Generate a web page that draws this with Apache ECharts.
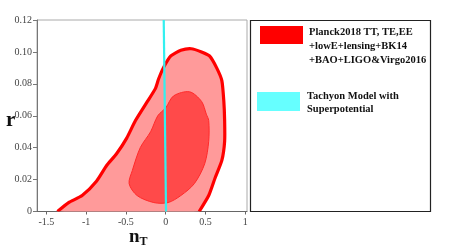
<!DOCTYPE html>
<html><head><meta charset="utf-8">
<script src="https://cdn.jsdelivr.net/npm/echarts@6/dist/echarts.min.js"></script>
<style>html,body{margin:0;padding:0;background:#fff}#c{width:461px;height:250px}</style>
</head><body><div id="c"></div>
<script>
// Outer (95%) contour
var outerN = [-1.36,-1.22,-1.05,-0.87,-0.74,-0.62,-0.49,-0.38,-0.23,-0.13,-0.09,-0.03,0.064,0.19,0.32,0.45,0.55,0.64,0.705,0.73,0.74,0.74,0.705,0.62,0.54,0.42];
var outerR = [0,0.0056,0.01,0.019,0.029,0.036,0.046,0.057,0.069,0.077,0.083,0.09,0.0975,0.101,0.102,0.1,0.0975,0.09,0.082,0.069,0.057,0.044,0.032,0.021,0.01,0];
// Inner (68%) contour
var innerN = [-0.15,-0.36,-0.46,-0.42,-0.32,-0.19,-0.1,0,0.1,0.3,0.45,0.51,0.54,0.54,0.49,0.36,0.19,0.03];
var innerR = [0.0056,0.01,0.0175,0.0256,0.04,0.05,0.06,0.065,0.0725,0.075,0.069,0.061,0.057,0.044,0.03,0.0175,0.01,0.0056];
// Tachyon model line
var tachN = [-0.025, 0.004];
var tachR = [0.12, 0];
var xTicks = [-1.5,-1,-0.5,0,0.5,1];
var xTickLabels = ['-1.5','-1','-0.5','0','0.5','1'];
var yTickLabels = ['0','0.02','0.04','0.06','0.08','0.10','0.12'];
var legendLabels = ['Planck2018 TT, TE,EE','+lowE+lensing+BK14','+BAO+LIGO&Virgo2016'];
var legendLabels2 = ['Tachyon Model with','Superpotential'];

var chart = echarts.init(document.getElementById('c'), null, {renderer:'canvas'});
var serif = '"Liberation Serif", "DejaVu Serif", serif';

function pts(api, ns, rs){
  var p=[]; for(var i=0;i<ns.length;i++){ p.push(api.coord([ns[i], rs[i]])); } return p;
}
var option = {
  animation:false,
  grid:{left:37, top:20, width:210, height:191.5, show:true, borderColor:'#aaa', borderWidth:1, backgroundColor:'#fff'},
  xAxis:{type:'value', min:-1.617, max:1.021,
    axisLine:{onZero:false, lineStyle:{color:'#666'}},
    splitLine:{show:false},
    axisTick:{show:true, length:3, customValues:xTicks, lineStyle:{color:'#666'}},
    axisLabel:{customValues:xTicks, fontFamily:serif, fontSize:10, color:'#444', margin:6,
      formatter:function(v){var i=xTicks.indexOf(v); return i>=0?xTickLabels[i]:'';}}
  },
  yAxis:{type:'value', min:0, max:0.12, interval:0.02,
    axisLine:{show:true, onZero:false, lineStyle:{color:'#777'}},
    splitLine:{show:false},
    axisTick:{show:true, length:4, lineStyle:{color:'#777'}},
    axisLabel:{fontFamily:serif, fontSize:10, color:'#444', margin:5,
      formatter:function(v){return yTickLabels[Math.round(v/0.02)];}}
  },
  series:[
    {type:'custom', data:[0], clip:true, z:2,
     renderItem:function(params, api){
       var o = pts(api, outerN, outerR);
       var inn = pts(api, innerN, innerR);
       return {type:'group', children:[
         {type:'polygon', shape:{points:o, smooth:0.2}, style:{fill:'#ff9a9a', stroke:null}},
         {type:'polygon', shape:{points:inn, smooth:0.3}, style:{fill:'#ff4a4a', stroke:'#ff2a2a', lineWidth:1}},
         {type:'polyline', shape:{points:o, smooth:0.2}, style:{fill:null, stroke:'#ff0000', lineWidth:3.2, lineJoin:'round'}}
       ]};
     }},
    {type:'line', data:[[tachN[0],tachR[0]],[tachN[1],tachR[1]]], symbol:'none', z:3,
     lineStyle:{color:'#33f0f0', width:2.2}}
  ],
  graphic:[
    {type:'text', left:6, top:110, style:{text:'r', font:'bold 21px '+serif, fill:'#111'}},
    {type:'text', left:129, top:228, style:{text:'{n|n}{t|T}', rich:{n:{font:'bold 19px '+serif, fill:'#111'}, t:{font:'bold 12px '+serif, fill:'#111', padding:[8,0,0,0]}}}},
    {type:'rect', shape:{x:250.5, y:20.5, width:180, height:191}, style:{fill:'#fff', stroke:'#222', lineWidth:1.2}},
    {type:'rect', shape:{x:260, y:26, width:43, height:18}, style:{fill:'#ff0000'}},
    {type:'text', left:309, top:25, style:{text:legendLabels.join('\n'), font:'bold 10.5px '+serif, lineHeight:14, fill:'#111'}},
    {type:'rect', shape:{x:257, y:92, width:43, height:19}, style:{fill:'#66ffff'}},
    {type:'text', left:307, top:90, style:{text:legendLabels2.join('\n'), font:'bold 10.5px '+serif, lineHeight:13, fill:'#111'}}
  ]
};
chart.setOption(option);
</script></body></html>
